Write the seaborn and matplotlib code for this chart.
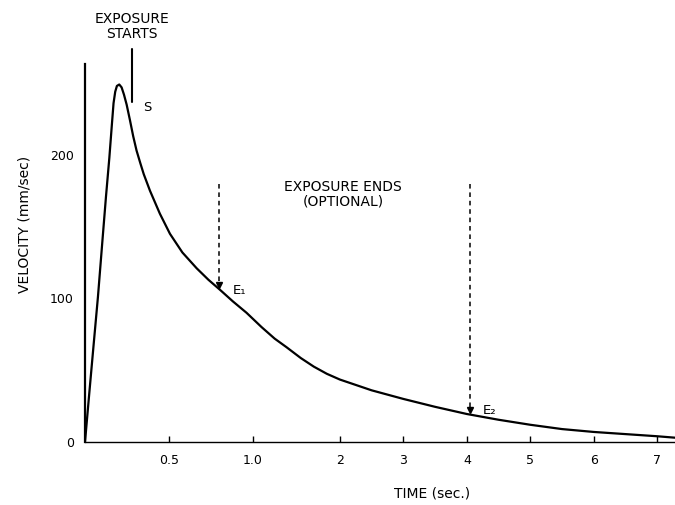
import numpy as np
import pandas as pd
import matplotlib
matplotlib.use("Agg")
import matplotlib.pyplot as plt
import seaborn as sns

# ---- data ----
time_s = [0, 0.024, 0.05, 0.077, 0.105, 0.125, 0.145, 0.16, 0.17, 0.18, 0.19,
          0.204, 0.218, 0.232, 0.248, 0.268, 0.287, 0.307, 0.33, 0.35, 0.387,
          0.446, 0.506, 0.58, 0.665, 0.735, 0.804, 0.88, 0.962, 1.1, 1.25,
          1.387, 1.55, 1.7, 1.85, 2.0, 2.5, 3.0, 3.5, 4.0, 4.5, 5.0, 5.5,
          6.0, 6.5, 7.0, 7.28]
velocity = [0, 32, 66, 101, 142, 171, 198, 221, 236, 244, 248,
            249, 247, 242, 235, 224, 213, 203, 194, 186.5, 175,
            159, 145, 132, 121, 113, 106, 98, 90, 80, 72,
            66, 58.5, 52.5, 47.5, 43.5, 36, 30, 24.5, 19.5, 15.5, 12, 9,
            7, 5.5, 4, 3]

x_ticks = [0.5, 1, 2, 3, 4, 5, 6, 7]
x_tick_labels = ["0.5", "1.0", "2", "3", "4", "5", "6", "7"]
y_ticks = [0, 100, 200]
y_tick_labels = ["0", "100", "200"]

exposure_start = 0.28
exposure_start_span = [237, 274]
exposure_end_options = [0.80, 4.05]
exposure_end_labels = ["E\u2081", "E\u2082"]
dashed_top = 180

# piecewise (broken) time axis of the original figure
scale_t = [0, 1, 2, 8]
scale_u = [0, 168, 255, 255 + 6 * 63.5]

def fwd(t):
    return np.interp(t, scale_t, scale_u)

def inv(u):
    return np.interp(u, scale_u, scale_t)

sns.set_theme(style="white")
plt.rcParams['font.family'] = ['DejaVu Sans']
plt.rcParams.update({"text.color": "black", "axes.labelcolor": "black",
                     "xtick.color": "black", "ytick.color": "black"})

fig = plt.figure(figsize=(6.75, 5.05), dpi=100)
ax = fig.add_axes([85 / 675, 63 / 505, 590 / 675, 402 / 505])
ax.set_xscale('function', functions=(fwd, inv))

df = pd.DataFrame({"time": time_s, "velocity": velocity})
sns.lineplot(data=df, x="time", y="velocity", ax=ax, color="black", lw=1.6)

ax.set_xlim(0, 7.28)
ax.set_ylim(0, 280)

# spines
for s in ["top", "right"]:
    ax.spines[s].set_visible(False)
ax.spines["left"].set_bounds(0, 263)
ax.spines["left"].set_color("black")
ax.spines["left"].set_linewidth(1.6)
ax.spines["bottom"].set_color("black")
ax.spines["bottom"].set_linewidth(1.0)

ax.set_xticks(x_ticks)
ax.set_xticklabels(x_tick_labels, fontsize=9)
ax.set_yticks(y_ticks)
ax.set_yticklabels(y_tick_labels, fontsize=9)
ax.xaxis.set_minor_locator(matplotlib.ticker.NullLocator())
ax.tick_params(axis="x", direction="in", length=4, width=1, color="black",
               labelcolor="black", pad=9, bottom=True)
ax.tick_params(axis="y", length=0, pad=8, left=True, labelcolor="black")

ax.set_xlabel("TIME (sec.)", fontsize=10, color="black")
ax.xaxis.set_label_coords(0.588, -0.11)
ax.set_ylabel("VELOCITY (mm/sec)", fontsize=10, color="black")
ax.yaxis.set_label_coords(-0.09, 0.54)

# exposure start marker
ax.plot([exposure_start, exposure_start], exposure_start_span, color="black", lw=1.5)
ax.text(exposure_start, 289.5, "EXPOSURE\nSTARTS", ha="center", va="center",
        fontsize=10, linespacing=1.05, clip_on=False, color="black")
ax.text(0.369, 233, "S", ha="center", va="center", fontsize=9.5, color="black")

# optional exposure ends
label_offsets = [(0.08, -4), (0.2, 0)]
for (t_end, lab), (dx, dy) in zip(zip(exposure_end_options, exposure_end_labels),
                                  label_offsets):
    v_end = np.interp(t_end, time_s, velocity)
    ax.plot([t_end, t_end], [dashed_top, v_end + 3], color="black", lw=1.1,
            ls=(0, (3, 2.5)))
    ax.plot([t_end], [v_end + 3], marker="v", color="black", markersize=4.5)
    ax.text(t_end + dx, v_end + 3 + dy, lab, ha="left", va="center",
            fontsize=9.5, color="black")

ax.text(2.05, 172.7, "EXPOSURE ENDS\n(OPTIONAL)", ha="center", va="center",
        fontsize=10, linespacing=1.05, color="black")

fig.savefig("out.png", dpi=100)
